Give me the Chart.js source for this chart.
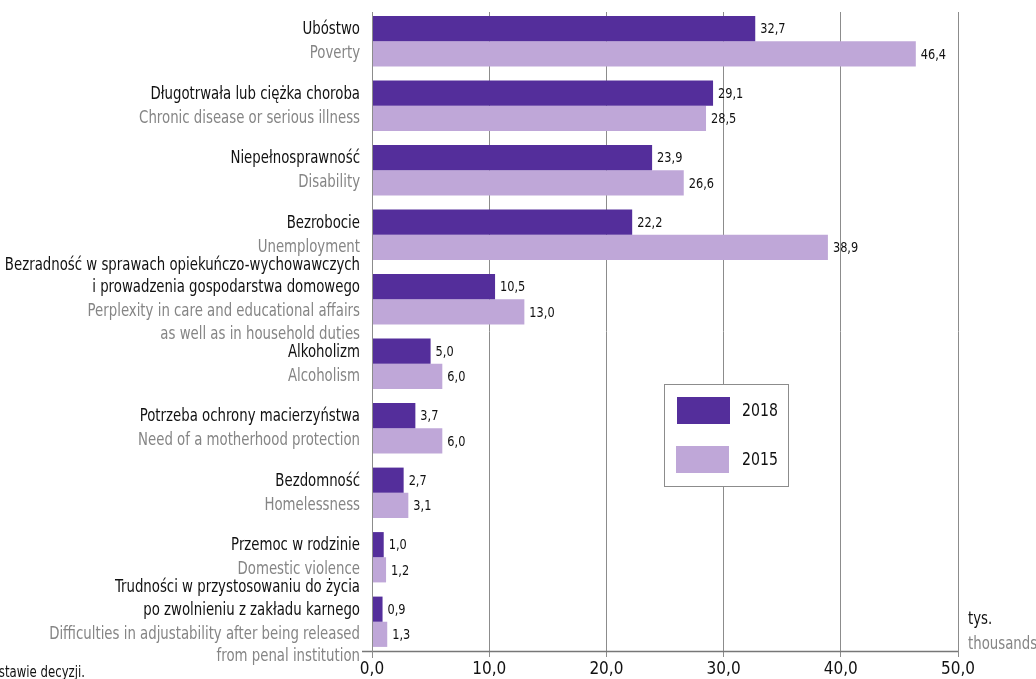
<!DOCTYPE html>
<html>
<head>
<meta charset="utf-8">
<script src="https://cdn.jsdelivr.net/npm/chart.js@4/dist/chart.umd.min.js"></script>
<style>
    html, body { margin: 0; padding: 0; background: #fff; overflow: hidden; }
    canvas { display: block; }
</style>
</head>
<body>
<canvas id="grafica" width="1036" height="679"></canvas>
<script>
"use strict";

const FONT = '"Liberation Sans Narrow", "DejaVu Sans Condensed", sans-serif';
const SX = 0.87; // zwężenie tekstu

// etykiety kategorii (PL / EN)
const labelsPl = [
    ["Ubóstwo"],
    ["Długotrwała lub ciężka choroba"],
    ["Niepełnosprawność"],
    ["Bezrobocie"],
    ["Bezradność w sprawach opiekuńczo-wychowawczych", "i prowadzenia gospodarstwa domowego"],
    ["Alkoholizm"],
    ["Potrzeba ochrony macierzyństwa"],
    ["Bezdomność"],
    ["Przemoc w rodzinie"],
    ["Trudności w przystosowaniu do życia", "po zwolnieniu z zakładu karnego"],
];
const labelsEn = [
    ["Poverty"],
    ["Chronic disease or serious illness"],
    ["Disability"],
    ["Unemployment"],
    ["Perplexity in care and educational affairs", "as well as in household duties"],
    ["Alcoholism"],
    ["Need of a motherhood protection"],
    ["Homelessness"],
    ["Domestic violence"],
    ["Difficulties in adjustability after being released", "from penal institution"],
];

const values2018 = [32.7, 29.1, 23.9, 22.2, 10.5, 5.0, 3.7, 2.7, 1.0, 0.9];
const values2015 = [46.4, 28.5, 26.6, 38.9, 13.0, 6.0, 6.0, 3.1, 1.2, 1.3];

const xTicks = [0, 10, 20, 30, 40, 50];

const COLOR_2018 = "#542e9b";
const COLOR_2015 = "#bfa7d8";
const GRID = "#8c8c8c";

const fmt = (v) => Number(v).toFixed(1).replace(".", ",");

function tekst(ctx, t, x, y) {
    ctx.save();
    ctx.translate(x, y);
    ctx.scale(SX, 1);
    ctx.fillText(t, 0, 0);
    ctx.restore();
}

/**
 * Etykiety kategorii, wartości, legenda i jednostka
 */
const etykietyPlugin = {
    id: "etykiety",
    beforeDatasetsDraw(chart) {
        // siatka zaczyna się na y = 12
        const ctx = chart.ctx;
        ctx.save();
        ctx.fillStyle = "#fff";
        ctx.fillRect(chart.chartArea.left - 2, 0, chart.chartArea.width + 4, 12);
        ctx.restore();
    },
    afterDatasetsDraw(chart) {
        const ctx = chart.ctx;
        const m18 = chart.getDatasetMeta(0);
        const m15 = chart.getDatasetMeta(1);
        const area = chart.chartArea;
        const lh = 22.5;

        ctx.save();
        ctx.textBaseline = "middle";

        // wartości przy słupkach
        ctx.font = "14.5px " + FONT;
        ctx.fillStyle = "#111";
        ctx.textAlign = "left";
        [m18, m15].forEach((meta, d) => {
            const vals = d === 0 ? values2018 : values2015;
            meta.data.forEach((bar, i) => {
                tekst(ctx, fmt(vals[i]), bar.x + 5, bar.y + 1);
            });
        });

        // opisy kategorii
        ctx.font = "17px " + FONT;
        ctx.textAlign = "right";
        const xr = area.left - 12;
        labelsPl.forEach((lines, i) => {
            const yb = m18.data[i].y;
            ctx.fillStyle = "#111";
            lines.forEach((t, k) => {
                tekst(ctx, t, xr, yb + 1 - (lines.length - 1 - k) * lh);
            });
            const ye = m15.data[i].y;
            ctx.fillStyle = "#858585";
            labelsEn[i].forEach((t, k) => {
                tekst(ctx, t, xr, ye + k * lh);
            });
        });

        // jednostka
        ctx.textAlign = "left";
        ctx.fillStyle = "#111";
        tekst(ctx, "tys.", 968, 620);
        ctx.fillStyle = "#858585";
        tekst(ctx, "thousands", 968, 645);

        // przypis (ucięty)
        ctx.fillStyle = "#111";
        ctx.font = "15px " + FONT;
        ctx.textAlign = "right";
        tekst(ctx, "na podstawie decyzji.", 85, 673);

        // osie
        ctx.strokeStyle = "#777";
        ctx.lineWidth = 1.5;
        ctx.beginPath();
        ctx.moveTo(area.left - 10, 651.5);
        ctx.lineTo(area.right, 651.5);
        ctx.stroke();
        ctx.strokeStyle = GRID;
        ctx.lineWidth = 1;
        ctx.beginPath();
        ctx.moveTo(area.left + 0.5, 12);
        ctx.lineTo(area.left + 0.5, 658);
        ctx.stroke();

        // legenda
        const lx = 664, ly = 384, lw = 124, lhgt = 102;
        ctx.fillStyle = "#fff";
        ctx.fillRect(lx, ly, lw, lhgt);
        ctx.strokeStyle = GRID;
        ctx.lineWidth = 1;
        ctx.strokeRect(lx + 0.5, ly + 0.5, lw, lhgt);
        ctx.fillStyle = COLOR_2018;
        ctx.fillRect(677, 397, 53, 27);
        ctx.fillStyle = COLOR_2015;
        ctx.fillRect(676, 446, 53, 27);
        ctx.fillStyle = "#111";
        ctx.font = "18px " + FONT;
        ctx.textAlign = "left";
        tekst(ctx, "2018", 742, 411);
        tekst(ctx, "2015", 742, 460);

        ctx.restore();
    },
};

new Chart(document.querySelector("#grafica"), {
    type: "bar",
    data: {
        labels: labelsPl.map((l) => l.join(" ")),
        datasets: [
            {
                label: "2018",
                data: values2018,
                backgroundColor: COLOR_2018,
                categoryPercentage: 0.78,
                barPercentage: 1,
            },
            {
                label: "2015",
                data: values2015,
                backgroundColor: COLOR_2015,
                categoryPercentage: 0.78,
                barPercentage: 1,
            },
        ],
    },
    options: {
        indexAxis: "y",
        responsive: false,
        animation: false,
        layout: {
            padding: { left: 372, right: 78, top: 9, bottom: 0 },
        },
        plugins: {
            legend: { display: false },
            tooltip: { enabled: false },
        },
        scales: {
            x: {
                min: 0,
                max: 50,
                afterBuildTicks: (scale) => {
                    scale.ticks = xTicks.map((v) => ({ value: v }));
                },
                afterFit: (scale) => {
                    scale.height = 25;
                },
                grid: {
                    color: GRID,
                    lineWidth: 1,
                    tickLength: 3,
                },
                border: { display: false },
                ticks: {
                    callback: (v) => fmt(v),
                    color: "#111",
                    font: { family: FONT, size: 17 },
                    padding: 2,
                    maxRotation: 0,
                },
            },
            y: {
                afterFit: (scale) => {
                    scale.width = 0;
                },
                grid: { display: false },
                border: { display: false },
                ticks: { display: false },
            },
        },
    },
    plugins: [etykietyPlugin],
});
</script>
</body>
</html>
